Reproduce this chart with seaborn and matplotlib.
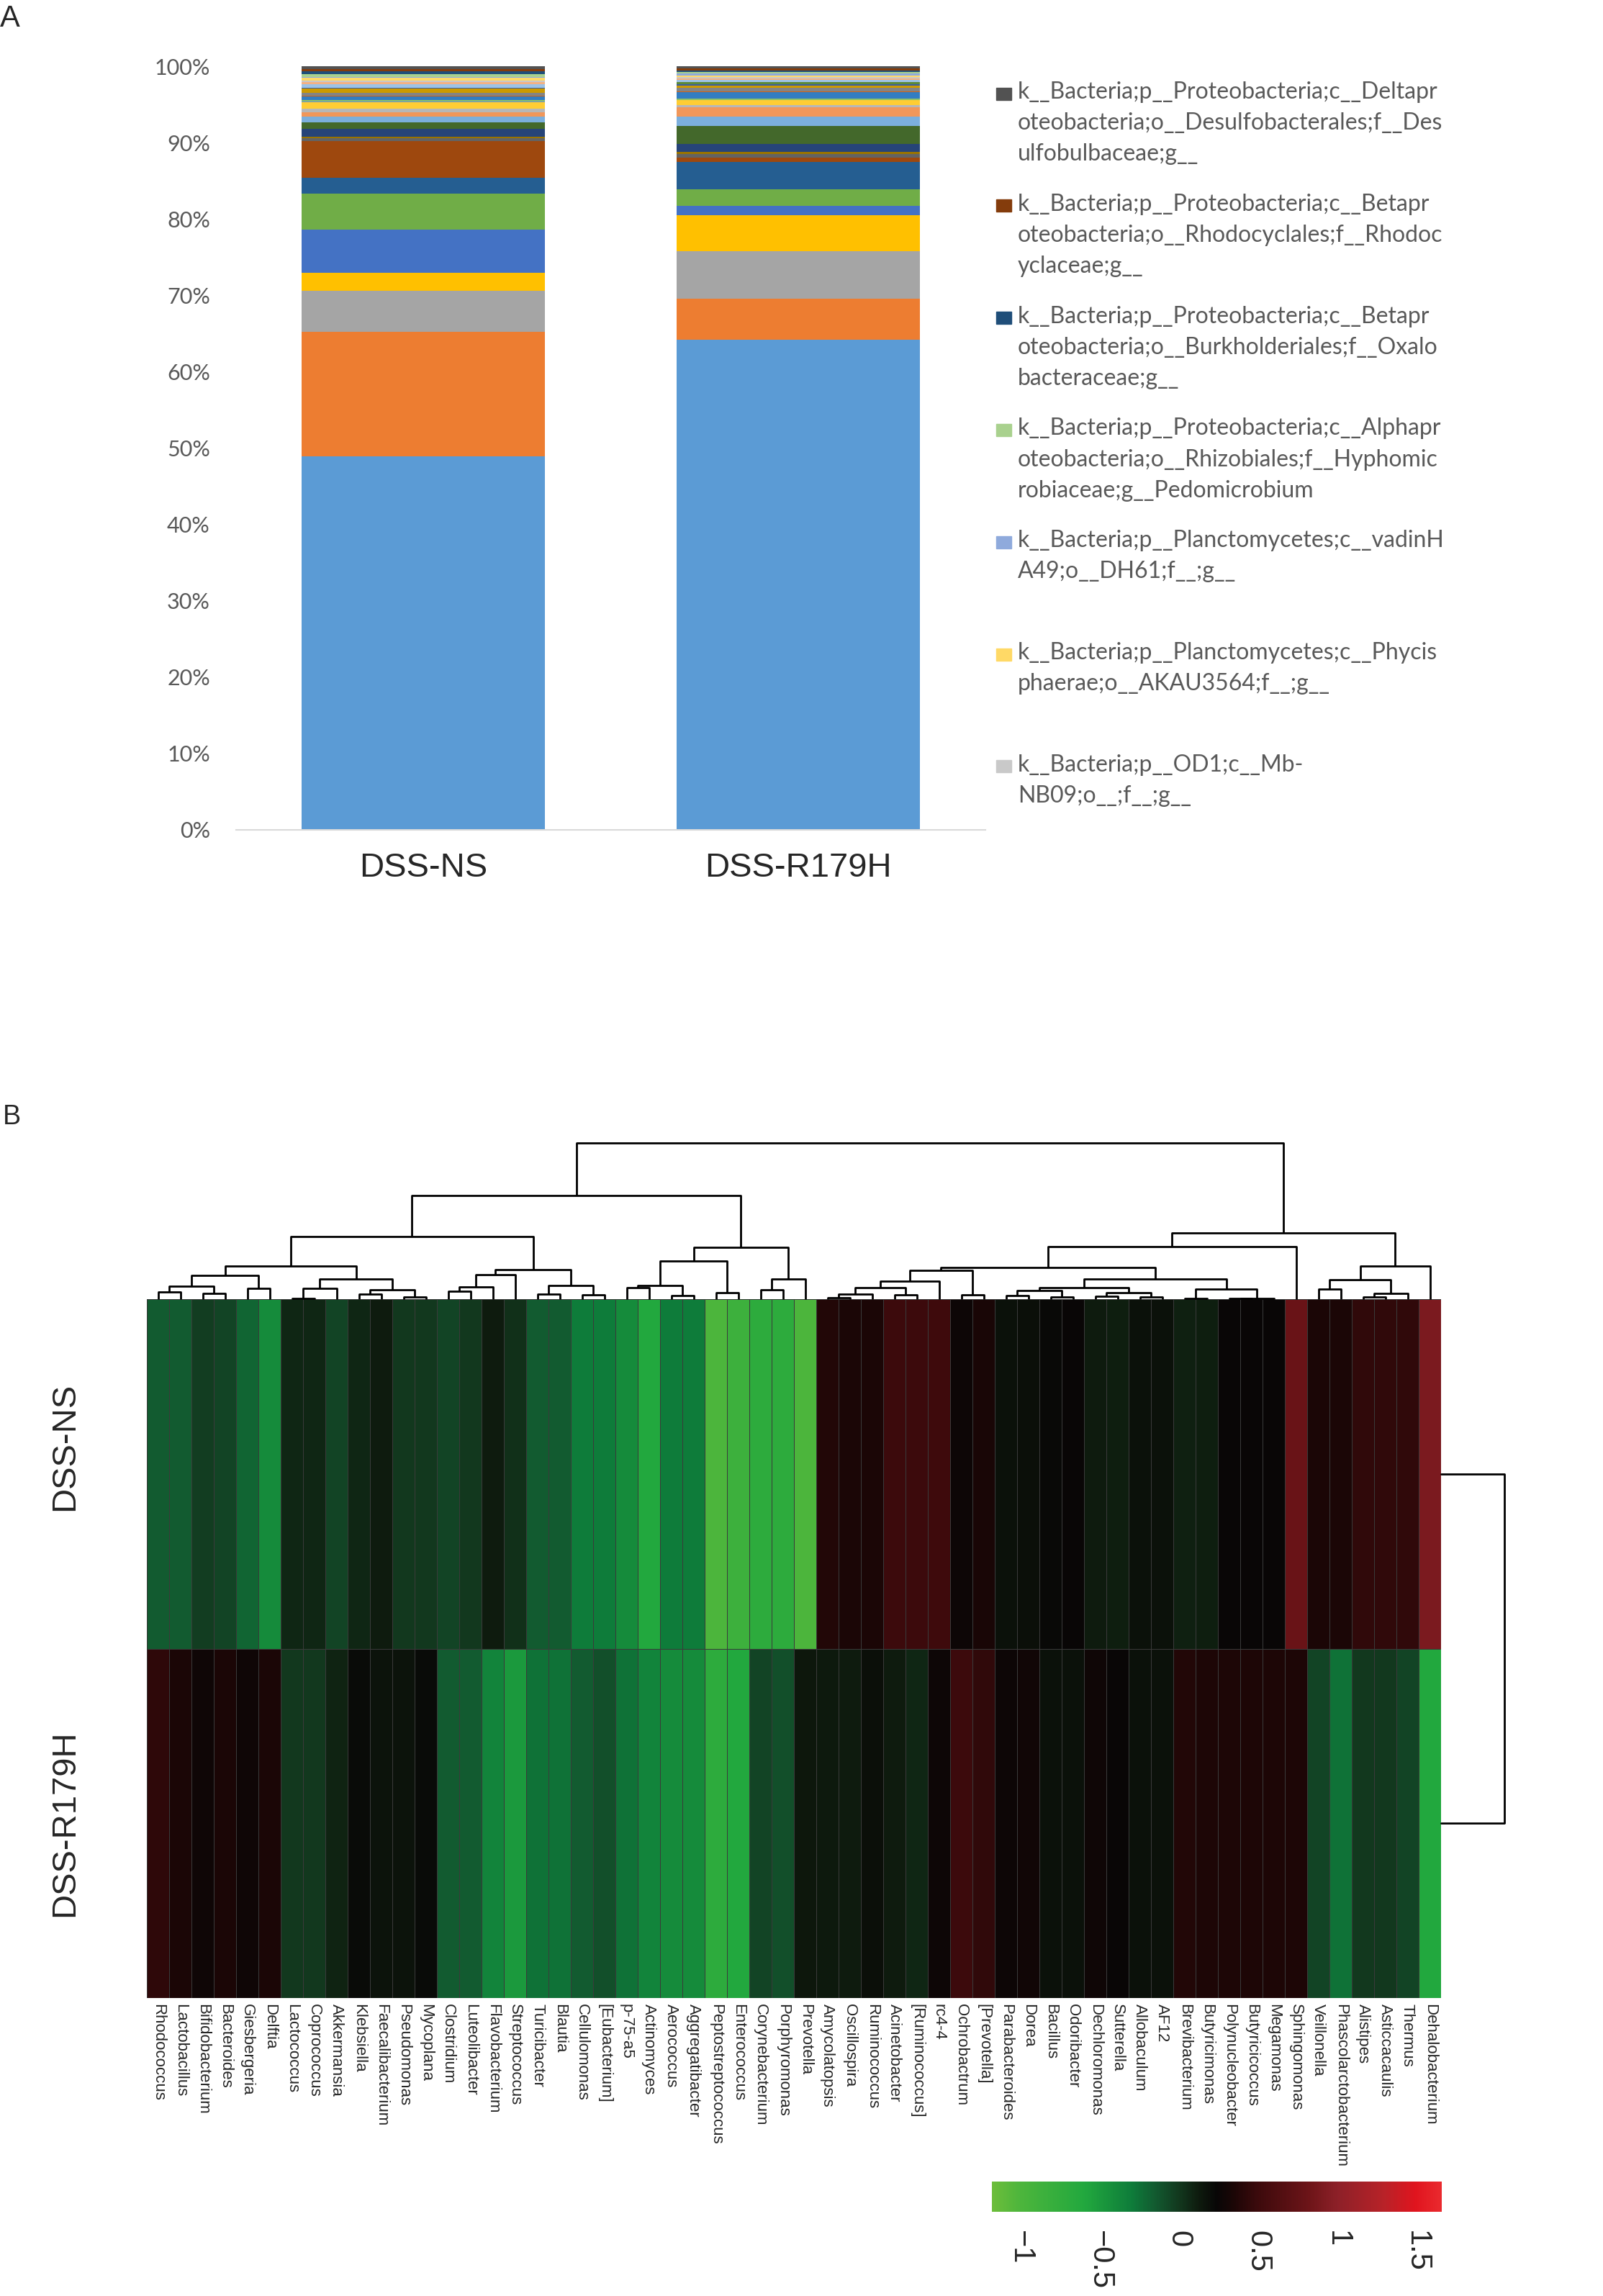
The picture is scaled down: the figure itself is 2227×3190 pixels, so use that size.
import numpy as np
import pandas as pd
import matplotlib
matplotlib.use("Agg")
import matplotlib.pyplot as plt
import matplotlib.transforms as mtransforms
import seaborn as sns
from matplotlib.colors import LinearSegmentedColormap
from matplotlib.patches import Rectangle

# ---------------- panel A data (relative abundance, %) ----------------
samples = ["DSS-NS", "DSS-R179H"]

# Excel default series colours, series 1..33 (bottom of the stack first)
palette = ["#5B9BD5", "#ED7D31", "#A5A5A5", "#FFC000", "#4472C4", "#70AD47",
           "#255E91", "#9E480E", "#636363", "#997300", "#264478", "#43682B",
           "#7CAFDD", "#F1975A", "#B7B7B7", "#FFCD33", "#698ED0", "#8CC168",
           "#327DC2", "#D26012", "#848484", "#CC9A00", "#3A5FA0", "#5A8A39",
           "#9DC3E6", "#F4B183", "#C9C9C9", "#FFD966", "#8FAADC", "#A9D18E",
           "#1F4E79", "#843C0C", "#525252"]

ns_abund = [48.9, 16.3, 5.4, 2.35, 5.65, 4.7, 2.1, 4.8, 0.4, 0.2, 1.0, 0.85,
            0.75, 0.55, 0.45, 0.9, 0.1, 0.15, 0.5, 0.05, 0.45, 0.55, 0.05, 0.05,
            0.4, 0.35, 0.2, 0.35, 0.1, 0.4, 0.3, 0.3, 0.4]
r179h_abund = [64.15, 5.4, 6.25, 4.7, 1.25, 2.1, 3.6, 0.55, 0.5, 0.3, 1.0, 2.35,
               1.25, 1.2, 0.3, 0.65, 0.05, 0.2, 0.85, 0.05, 0.5, 0.25, 0.2, 0.25,
               0.3, 0.2, 0.15, 0.2, 0.3, 0.2, 0.2, 0.3, 0.25]

# legend shows the last seven series, top of the stack first
legend_taxa = [
    "k__Bacteria;p__Proteobacteria;c__Deltapr\noteobacteria;o__Desulfobacterales;f__Des\nulfobulbaceae;g__",
    "k__Bacteria;p__Proteobacteria;c__Betapr\noteobacteria;o__Rhodocyclales;f__Rhodoc\nyclaceae;g__",
    "k__Bacteria;p__Proteobacteria;c__Betapr\noteobacteria;o__Burkholderiales;f__Oxalo\nbacteraceae;g__",
    "k__Bacteria;p__Proteobacteria;c__Alphapr\noteobacteria;o__Rhizobiales;f__Hyphomic\nrobiaceae;g__Pedomicrobium",
    "k__Bacteria;p__Planctomycetes;c__vadinH\nA49;o__DH61;f__;g__",
    "k__Bacteria;p__Planctomycetes;c__Phycis\nphaerae;o__AKAU3564;f__;g__",
    "k__Bacteria;p__OD1;c__Mb-\nNB09;o__;f__;g__",
]
pct_ticks = [0, 10, 20, 30, 40, 50, 60, 70, 80, 90, 100]

# ---------------- panel B data (scaled abundance) ----------------
genera = ["Rhodococcus", "Lactobacillus", "Bifidobacterium", "Bacteroides",
          "Giesbergeria", "Delftia", "Lactococcus", "Coprococcus", "Akkermansia",
          "Klebsiella", "Faecalibacterium", "Pseudomonas", "Mycoplana",
          "Clostridium", "Luteolibacter", "Flavobacterium", "Streptococcus",
          "Turicibacter", "Blautia", "Cellulomonas", "[Eubacterium]", "p-75-a5",
          "Actinomyces", "Aerococcus", "Aggregatibacter", "Peptostreptococcus",
          "Enterococcus", "Corynebacterium", "Porphyromonas", "Prevotella",
          "Amycolatopsis", "Oscillospira", "Ruminococcus", "Acinetobacter",
          "[Ruminococcus]", "rc4-4", "Ochrobactrum", "[Prevotella]",
          "Parabacteroides", "Dorea", "Bacillus", "Odoribacter", "Dechloromonas",
          "Sutterella", "Allobaculum", "AF12", "Brevibacterium", "Butyricimonas",
          "Polynucleobacter", "Butyricicoccus", "Megamonas", "Sphingomonas",
          "Veillonella", "Phascolarctobacterium", "Alistipes", "Asticcacaulis",
          "Thermus", "Dehalobacterium"]

ns_z = [-0.15, -0.15, -0.02, -0.05, -0.2, -0.4, 0.08, 0.08, -0.05, 0.08,
        0.12, 0.0, 0.0, -0.05, 0.0, 0.12, 0.03, -0.15, -0.15, -0.3,
        -0.3, -0.4, -0.6, -0.3, -0.3, -1.0, -0.85, -0.7, -0.7, -1.0,
        0.38, 0.35, 0.35, 0.5, 0.5, 0.51, 0.27, 0.33, 0.18, 0.19,
        0.22, 0.25, 0.12, 0.11, 0.18, 0.18, 0.1, 0.11, 0.25, 0.25,
        0.25, 0.8, 0.35, 0.35, 0.45, 0.45, 0.45, 0.9]
r179h_z = [0.43, 0.35, 0.28, 0.34, 0.28, 0.35, 0.0, 0.0, 0.09, 0.21,
           0.17, 0.17, 0.21, -0.15, -0.15, -0.35, -0.5, -0.25, -0.25, -0.15,
           -0.1, -0.25, -0.35, -0.4, -0.4, -0.7, -0.6, -0.05, -0.1, 0.15,
           0.13, 0.12, 0.19, 0.12, 0.08, 0.27, 0.5, 0.45, 0.27, 0.29,
           0.18, 0.18, 0.28, 0.25, 0.18, 0.18, 0.38, 0.36, 0.36, 0.36,
           0.36, 0.36, -0.05, -0.25, 0.0, 0.0, -0.05, -0.6]

# column clustering: (name, left, right, height);
# ints are leaf (column) indices, strings refer to earlier merges
col_merges = [
    ("a01", 0, 1, 30), ("a23", 2, 3, 25), ("a0_3", "a01", "a23", 53),
    ("a45", 4, 5, 45), ("a0_5", "a0_3", "a45", 100),
    ("a67", 6, 7, 2), ("a6_8", "a67", 8, 45), ("a9_10", 9, 10, 22),
    ("a11_12", 11, 12, 10), ("a9_12", "a9_10", "a11_12", 40),
    ("a6_12", "a6_8", "a9_12", 85), ("a0_12", "a0_5", "a6_12", 138),
    ("a13_14", 13, 14, 33), ("a13_15", "a13_14", 15, 52),
    ("a13_16", "a13_15", 16, 101), ("a17_18", 17, 18, 21),
    ("a19_20", 19, 20, 17), ("a17_20", "a17_18", "a19_20", 57),
    ("a13_20", "a13_16", "a17_20", 125), ("a0_20", "a0_12", "a13_20", 263),
    ("a21_22", 21, 22, 48), ("a23_24", 23, 24, 16),
    ("a21_24", "a21_22", "a23_24", 57), ("a25_26", 25, 26, 28),
    ("a21_26", "a21_24", "a25_26", 160), ("a27_28", 27, 28, 40),
    ("a27_29", "a27_28", 29, 83), ("a21_29", "a21_26", "a27_29", 218),
    ("left", "a0_20", "a21_29", 433),
    ("b30_31", 30, 31, 6), ("b30_32", "b30_31", 32, 20), ("b33_34", 33, 34, 18),
    ("b30_34", "b30_32", "b33_34", 48), ("b30_35", "b30_34", 35, 76),
    ("b36_37", 36, 37, 18), ("b30_37", "b30_35", "b36_37", 120),
    ("b38_39", 38, 39, 16), ("b40_41", 40, 41, 10),
    ("b38_41", "b38_39", "b40_41", 35), ("b42_43", 42, 43, 11),
    ("b44_45", 44, 45, 8), ("b42_45", "b42_43", "b44_45", 28),
    ("b38_45", "b38_41", "b42_45", 48), ("b46_47", 46, 47, 3),
    ("b48_49", 48, 49, 2), ("b48_50", "b48_49", 50, 3),
    ("b46_50", "b46_47", "b48_50", 43), ("b38_50", "b38_45", "b46_50", 85),
    ("b30_50", "b30_37", "b38_50", 134), ("b30_51", "b30_50", 51, 220),
    ("b52_53", 52, 53, 43), ("b54_55", 54, 55, 8), ("b54_56", "b54_55", 56, 25),
    ("b52_56", "b52_53", "b54_56", 81), ("b52_57", "b52_56", 57, 138),
    ("right", "b30_51", "b52_57", 278),
    ("root", "left", "right", 654),
]
row_merge_height = 1.0

cbar_ticks = [-1, -0.5, 0, 0.5, 1, 1.5]
cbar_ticklabels = ["\u22121", "\u22120.5", "0", "0.5", "1", "1.5"]
vmin, vmax = -1.18, 1.66
cmap_nodes = [(-1.18, "#6cbd3a"), (-1.0, "#4cb53c"), (-0.6, "#22a83e"),
              (-0.3, "#0e7c3a"), (-0.15, "#125a30"), (0.0, "#12381e"),
              (0.12, "#0e1c0e"), (0.24, "#080606"), (0.35, "#1c0606"),
              (0.5, "#3c0a0c"), (0.82, "#6c1418"), (1.0, "#8c2028"),
              (1.3, "#b82228"), (1.5, "#e0141e"), (1.66, "#ea2a2e")]

# ---------------- figure ----------------
sns.set_style("white")
plt.rcParams["font.family"] = ["Liberation Sans", "DejaVu Sans"]

W, H = 2227, 3190
fig = plt.figure(figsize=(W / 100, H / 100), dpi=100)


def box(x0, y0, x1, y1):
    # pixel box (top-left origin) -> figure rect
    return [x0 / W, 1 - y1 / H, (x1 - x0) / W, (y1 - y0) / H]


# ---- panel A: stacked bars ----
axA = fig.add_axes(box(328, 92, 1369, 1153))
cum = np.cumsum(np.array([ns_abund, r179h_abund]), axis=1)
for k in range(len(palette) - 1, -1, -1):
    df = pd.DataFrame({"sample": samples, "pct": cum[:, k]})
    sns.barplot(data=df, x="sample", y="pct", color=palette[k], width=0.65,
                linewidth=0, saturation=1, errorbar=None, ax=axA)
axA.set_xlim(-0.5, 1.5)
axA.set_ylim(0, 100)
axA.set_yticks(pct_ticks)
axA.set_yticklabels([f"{t}%" for t in pct_ticks], family=["Lato", "DejaVu Sans"],
                    fontsize=22, color="#595959")
axA.set_xticks(range(len(samples)))
axA.set_xticklabels(samples, fontsize=34)
axA.tick_params(axis="y", length=0, pad=26)
axA.tick_params(axis="x", length=0, pad=22)
axA.set_xlabel("")
axA.set_ylabel("")
for s in ["left", "right", "top"]:
    axA.spines[s].set_visible(False)
axA.spines["bottom"].set_color("#d9d9d9")
axA.spines["bottom"].set_linewidth(1.5)

legend_colors = palette[26:33][::-1]
for i, (lab, col) in enumerate(zip(legend_taxa, legend_colors)):
    yc = 130 + i * 155.8
    fig.patches.append(Rectangle((1384 / W, 1 - (yc + 8.5) / H), 21 / W, 17 / H,
                                 transform=fig.transFigure, color=col))
    fig.text(1414 / W, 1 - (yc - 17) / H, lab, family=["Lato", "DejaVu Sans"],
             fontsize=23, color="#595959", va="top", ha="left", linespacing=1.55)

fig.text(0, 1 - 37 / H, "A", fontsize=30, va="baseline")
fig.text(4 / W, 1 - 1562 / H, "B", fontsize=27, va="baseline")

# ---- panel B: heatmap ----
fr = [(v - vmin) / (vmax - vmin) for v, _ in cmap_nodes]
cmap = LinearSegmentedColormap.from_list("gbr", list(zip(fr, [c for _, c in cmap_nodes])))

mat = pd.DataFrame([ns_z, r179h_z], index=samples, columns=genera)
axH = fig.add_axes(box(204, 1805, 2002, 2776))
axC = fig.add_axes(box(1378, 3031, 2003, 3073))
sns.heatmap(mat, cmap=cmap, vmin=vmin, vmax=vmax, ax=axH, cbar_ax=axC,
            cbar_kws={"orientation": "horizontal", "ticks": cbar_ticks},
            linewidths=0.5, linecolor="#3a3a3a", xticklabels=True, yticklabels=True)
axH.set_xticklabels(genera, rotation=-90, ha="center", va="top", fontsize=16)
axH.set_yticklabels(samples, rotation=90, va="center", fontsize=34)
axH.tick_params(axis="x", length=0, pad=6)
axH.tick_params(axis="y", length=0, pad=66)
# the upper row label sits a little above its row centre
first = axH.get_yticklabels()[0]
first.set_transform(first.get_transform() +
                    mtransforms.ScaledTranslation(0, 0.38, fig.dpi_scale_trans))
axH.set_xlabel("")
axH.set_ylabel("")

cbar = axH.collections[0].colorbar
cbar.outline.set_visible(False)
axC.set_xticks(cbar_ticks)
axC.set_xticklabels(cbar_ticklabels, rotation=-90, ha="center", va="top", fontsize=30)
axC.tick_params(length=0, pad=19)

# ---- column dendrogram ----
axD = fig.add_axes(box(204, 1588, 2002, 1805))
axD.set_xlim(0, len(genera))
axD.set_ylim(0, col_merges[-1][3])
axD.axis("off")
pos = {}
for name, a, b, h in col_merges:
    xa, ha = (a + 0.5, 0) if isinstance(a, int) else pos[a]
    xb, hb = (b + 0.5, 0) if isinstance(b, int) else pos[b]
    axD.plot([xa, xa, xb, xb], [ha, h, h, hb], color="black", lw=2.0,
             solid_capstyle="butt", clip_on=False)
    pos[name] = ((xa + xb) / 2, h)

# ---- row dendrogram ----
axR = fig.add_axes(box(2002, 1805, 2090, 2776))
axR.set_ylim(len(samples), 0)
axR.set_xlim(0, row_merge_height)
axR.axis("off")
axR.plot([0, row_merge_height, row_merge_height, 0], [0.5, 0.5, 1.5, 1.5],
         color="black", lw=2.0, clip_on=False)

fig.savefig("out.png", dpi=100, facecolor="white")
